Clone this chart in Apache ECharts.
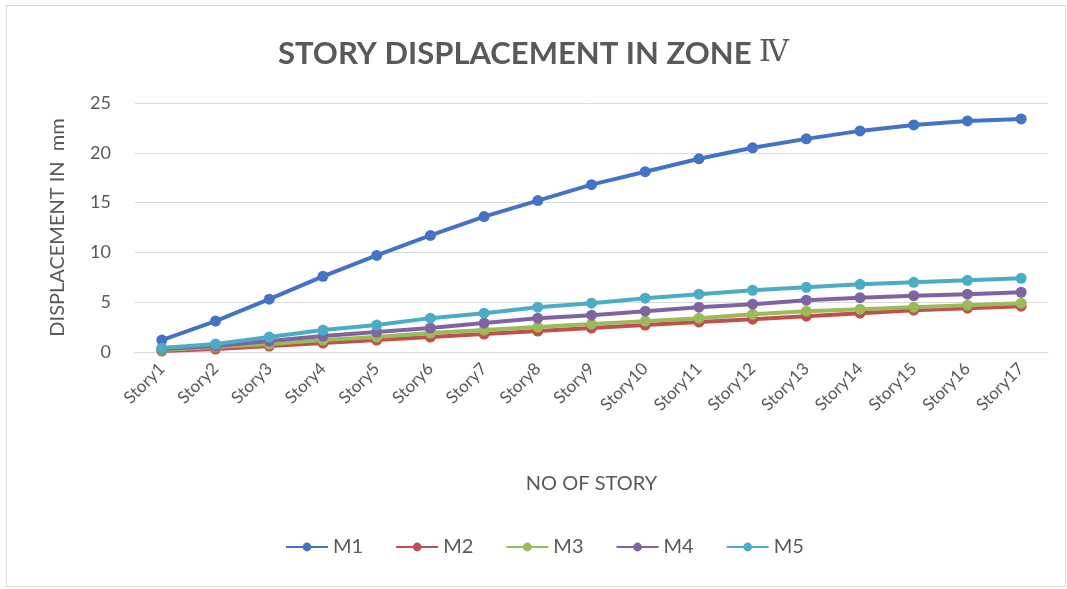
<!DOCTYPE html>
<html>
<head>
<meta charset="utf-8">
<script src="https://cdn.jsdelivr.net/npm/echarts@6/dist/echarts.min.js"></script>
<style>
    html, body { margin: 0; padding: 0; background: #fff; }
    #chart { width: 1067px; height: 589px; }
    #frame { position: absolute; left: 6px; top: 5px; width: 1058px; height: 580px; border: 1px solid #d9d9d9; pointer-events: none; }
</style>
</head>
<body>
<div id="chart"></div>
<div id="frame"></div>
<script>
const stories = ["Story1", "Story2", "Story3", "Story4", "Story5", "Story6", "Story7", "Story8", "Story9",
    "Story10", "Story11", "Story12", "Story13", "Story14", "Story15", "Story16", "Story17"];
const m1 = [1.2, 3.1, 5.3, 7.6, 9.7, 11.7, 13.6, 15.2, 16.8, 18.1, 19.4, 20.5, 21.4, 22.2, 22.8, 23.2, 23.4];
const m2 = [0.1, 0.3, 0.6, 0.9, 1.2, 1.5, 1.8, 2.1, 2.4, 2.7, 3.0, 3.3, 3.6, 3.9, 4.2, 4.4, 4.6];
const m3 = [0.2, 0.5, 0.8, 1.2, 1.5, 1.9, 2.2, 2.5, 2.8, 3.1, 3.4, 3.8, 4.1, 4.3, 4.5, 4.7, 4.9];
const m4 = [0.3, 0.6, 1.1, 1.6, 2.0, 2.4, 2.9, 3.4, 3.7, 4.1, 4.5, 4.8, 5.2, 5.45, 5.65, 5.8, 6.0];
const m5 = [0.4, 0.8, 1.5, 2.2, 2.7, 3.4, 3.9, 4.5, 4.9, 5.4, 5.8, 6.2, 6.5, 6.8, 7.0, 7.2, 7.4];
const seriesNames = ["M1", "M2", "M3", "M4", "M5"];
const colors = ["#4472c4", "#c0504d", "#9bbb59", "#8064a2", "#4bacc6"];

const font = "Lato, 'Open Sans', sans-serif";
const textGray = "#595959";

function makeSeries(name, data, color) {
    return {
        name: name,
        type: "line",
        data: data,
        symbol: "circle",
        symbolSize: 11,
        color: color,
        lineStyle: { width: 4, color: color },
        itemStyle: { color: color },
        emphasis: { disabled: true }
    };
}

const chart = echarts.init(document.getElementById("chart"), null, { renderer: "canvas" });
chart.setOption({
    animation: false,
    title: {
        text: "{t|STORY DISPLACEMENT IN ZONE }{n|Ⅳ}",
        left: "center",
        top: 33,
        textStyle: {
            rich: {
                t: { fontFamily: font, fontWeight: "bold", fontSize: 31, color: textGray },
                n: { fontFamily: "'DejaVu Serif', serif", fontWeight: "normal", fontSize: 30, color: textGray }
            }
        }
    },
    grid: { left: 135, right: 19, top: 103, bottom: 237, containLabel: false },
    legend: {
        bottom: 27,
        left: 280,
        itemWidth: 42,
        itemHeight: 11,
        itemGap: 32,
        textStyle: { fontFamily: font, fontSize: 20, color: textGray },
        data: seriesNames
    },
    xAxis: {
        type: "category",
        data: stories,
        boundaryGap: true,
        name: "NO OF STORY",
        nameLocation: "middle",
        nameGap: 122,
        nameTextStyle: { fontFamily: font, fontSize: 20, color: textGray },
        axisLine: { lineStyle: { color: "#d9d9d9" } },
        axisTick: { show: false },
        axisLabel: { rotate: 45, fontFamily: font, fontSize: 17, color: textGray, margin: 14 }
    },
    yAxis: {
        type: "value",
        min: 0,
        max: 25,
        interval: 5,
        name: "DISPLACEMENT IN  mm",
        nameLocation: "middle",
        nameRotate: 90,
        nameGap: 67,
        nameTextStyle: { fontFamily: font, fontSize: 20, color: textGray },
        axisLine: { show: false },
        axisTick: { show: false },
        axisLabel: { fontFamily: font, fontSize: 18, color: textGray, margin: 24 },
        splitLine: { lineStyle: { color: "#d9d9d9", width: 1 } }
    },
    series: [
        makeSeries("M1", m1, colors[0]),
        makeSeries("M2", m2, colors[1]),
        makeSeries("M3", m3, colors[2]),
        makeSeries("M4", m4, colors[3]),
        makeSeries("M5", m5, colors[4])
    ]
});
</script>
</body>
</html>
